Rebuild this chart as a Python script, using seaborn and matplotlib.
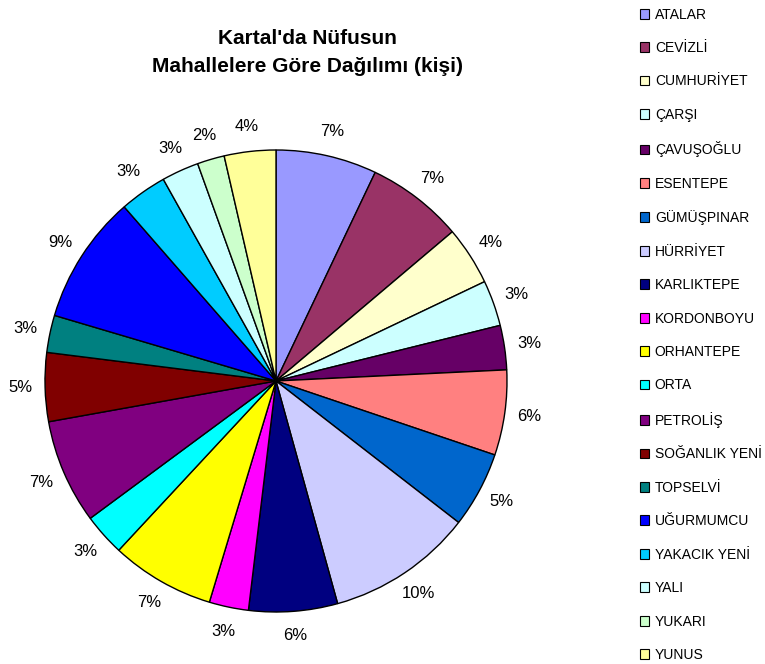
import matplotlib
matplotlib.use("Agg")
import matplotlib.pyplot as plt
import seaborn as sns
from matplotlib.patches import Patch

# Kartal nufus dagilimi (yuzde, pastadan okunan tahmini degerler)
mahalleler = ["ATALAR", "CEVİZLİ", "CUMHURİYET", "ÇARŞI", "ÇAVUŞOĞLU", "ESENTEPE",
              "GÜMÜŞPINAR", "HÜRRİYET", "KARLIKTEPE", "KORDONBOYU", "ORHANTEPE", "ORTA",
              "PETROLİŞ", "SOĞANLIK YENİ", "TOPSELVİ", "UĞURMUMCU", "YAKACIK YENİ",
              "YALI", "YUKARI", "YUNUS"]
paylar = [7.06, 6.75, 4.1, 3.2, 3.1, 5.95, 5.3, 10.2, 6.2, 2.75, 7.25, 2.95,
          7.3, 4.8, 2.6, 9.0, 3.3, 2.6, 1.9, 3.6]
renkler = ["#9999FF", "#993366", "#FFFFCC", "#CCFFFF", "#660066", "#FF8080",
           "#0066CC", "#CCCCFF", "#000080", "#FF00FF", "#FFFF00", "#00FFFF",
           "#800080", "#800000", "#008080", "#0000FF", "#00CCFF", "#CCFFFF",
           "#CCFFCC", "#FFFF99"]

sns.set_theme(style="white")
plt.rcParams["font.family"] = ["Liberation Sans", "DejaVu Sans"]
plt.rcParams["text.color"] = "black"

fig = plt.figure(figsize=(7.65, 6.64), dpi=100)
fig.patch.set_facecolor("white")

# pasta merkezi (276, 381) px, yaricap ~231 px
cx, cy, r = 276, 381, 231
ax = fig.add_axes([(cx - r) / 765, (664 - cy - r) / 664, 2 * r / 765, 2 * r / 664])
wedges, texts, autotexts = ax.pie(paylar, colors=renkler, startangle=90, counterclock=False,
                                  autopct=lambda p: "%d%%" % round(p), pctdistance=1.107,
                                  wedgeprops=dict(edgecolor="black", linewidth=1),
                                  textprops=dict(fontsize=12, color="black"))
ax.set_xlim(-1, 1)
ax.set_ylim(-1, 1)
ax.set_aspect("equal")
ax.axis("off")

fig.text(307 / 765, 1 - 53 / 664, "Kartal'da Nüfusun\nMahallelere Göre Dağılımı (kişi)",
         ha="center", va="center", fontsize=15, fontweight="bold", linespacing=1.6)

handles = [Patch(facecolor=c, edgecolor="black", linewidth=0.8) for c in renkler]
fig.legend(handles, mahalleler, loc="upper left", bbox_to_anchor=(634 / 765, 1 - 2 / 664),
           frameon=False, fontsize=10, handlelength=0.7, handleheight=0.7,
           handletextpad=0.4, labelspacing=1.4, borderaxespad=0)

plt.savefig("out.png", dpi=100)
plt.close()
